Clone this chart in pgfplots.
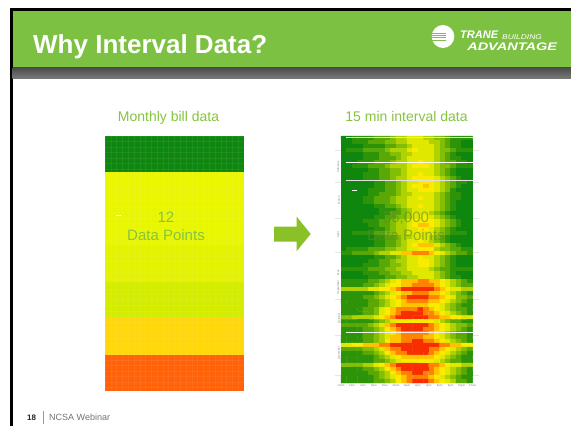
\documentclass[border=0pt]{standalone}
\usepackage{pgfplots}
\pgfplotsset{compat=1.18}
\usepackage{fontspec}
\setmainfont{Liberation Sans}
\definecolor{hdr}{HTML}{7DC142}
\definecolor{lab}{HTML}{86C440}
\definecolor{arr}{HTML}{8AC127}
\newcommand{\fs}[1]{\fontsize{#1}{#1}\selectfont}
\begin{document}
\begin{tikzpicture}[x=1pt,y=1pt]
\useasboundingbox (0,0) rectangle (571,426);
\fill[white] (0,0) rectangle (571,426);
% frame and header
\fill[black] (10,0) rectangle (571,418);
\fill[white] (12.7,0) rectangle (571,415.3);
\fill[hdr] (12.7,358) rectangle (571,415.3);
\shade[top color=black!70,bottom color=black!52,draw=none] (12.7,347.3) rectangle (571,358);
\node[anchor=base west,inner sep=0,text=white,font=\fs{26}\bfseries] at (33,372.7) {Why Interval Data?};
% logo
\fill[white] (443,389.5) ellipse (11.3 and 11.5);
\foreach \yy in {386,388.2,390.4,392.6}{\draw[hdr,line width=.6pt] (431,\yy) -- (446,\yy);}
\node[anchor=base west,inner sep=0,text=white,font=\fs{11}\bfseries\itshape] at (460,387) {TRANE};
\node[anchor=base west,inner sep=0,text=white,font=\fs{7}\itshape,xscale=1.2] at (502,386) {BUILDING};
\node[anchor=base west,inner sep=0,text=white,font=\fs{11}\bfseries\itshape,xscale=1.32] at (467,375.3) {ADVANTAGE};
% titles
\node[anchor=base,inner sep=0,text=lab,font=\fs{14}] at (168.5,304.3) {Monthly bill data};
\node[anchor=base,inner sep=0,text=lab,font=\fs{14}] at (406.5,304.3) {15 min interval data};
% left chart
\begin{axis}[at={(105pt,35pt)},anchor=south west,scale only axis,width=139pt,height=255pt,
  xmin=0,xmax=24,ymin=0,ymax=7,y dir=reverse,axis on top,
  axis line style={draw=none},major tick length=0pt,
  xtick={0,1,...,24},ytick={0,0.15,...,7},xticklabels={},yticklabels={},
  grid=major,grid style={white,opacity=.06,line width=.5pt}]
\addplot[fill={rgb,255:red,15;green,134;blue,15},draw=none] coordinates {(0,0)(24,0)(24,1)(0,1)} -- cycle;
\addplot[fill={rgb,255:red,234;green,245;blue,0},draw=none] coordinates {(0,1)(24,1)(24,2)(0,2)} -- cycle;
\addplot[fill={rgb,255:red,232;green,246;blue,0},draw=none] coordinates {(0,2)(24,2)(24,3)(0,3)} -- cycle;
\addplot[fill={rgb,255:red,226;green,242;blue,0},draw=none] coordinates {(0,3)(24,3)(24,4)(0,4)} -- cycle;
\addplot[fill={rgb,255:red,211;green,236;blue,0},draw=none] coordinates {(0,4)(24,4)(24,5)(0,5)} -- cycle;
\addplot[fill={rgb,255:red,255;green,215;blue,10},draw=none] coordinates {(0,5)(24,5)(24,6)(0,6)} -- cycle;
\addplot[fill={rgb,255:red,255;green,98;blue,8},draw=none] coordinates {(0,6)(24,6)(24,7)(0,7)} -- cycle;
\addplot[white,line width=1pt] coordinates {(1.9,2.17)(2.76,2.17)};
\end{axis}
% right chart
\begin{axis}[at={(341pt,43pt)},anchor=south west,scale only axis,width=131.6pt,height=247pt,
  xmin=-0.5,xmax=23.5,ymin=-0.5,ymax=61.5,y dir=reverse,clip=false,
  axis line style={draw=none},
  colormap={hm}{rgb255=(15,135,15) rgb255=(45,148,10) rgb255=(90,168,5) rgb255=(130,190,5) rgb255=(175,210,0) rgb255=(225,232,0) rgb255=(250,235,0) rgb255=(255,195,0) rgb255=(255,130,0) rgb255=(248,45,0)},
  point meta min=0,point meta max=9,
  xtick={-0.5,1.5,...,23.5},
  xticklabels={12am,2am,4am,6am,8am,10am,12pm,2pm,4pm,6pm,8pm,10pm,12am},
  x tick label style={font=\fs{2.8},text=black!50,inner sep=1pt},
  major tick length=0pt,
  ytick={7.3,15.6,24.3,33.8,37.5,45.3,54},
  yticklabels={February,March,April,May,September,October,December},
  y tick label style={font=\fs{2.8},text=black!50,rotate=90,anchor=south,inner sep=1pt},
  extra y ticks={3,11,20,28.75,40.5,49.5,59.5},extra y tick labels={},
  extra y tick style={major tick length=6pt,tick align=outside,tick style={black!10}}]
\addplot[matrix plot*,point meta=explicit,mesh/cols=24] table[row sep=crcr,header=false,x expr={mod(\coordindex,24)},y expr={floor((\coordindex+0.5)/24)},meta index=0] {
0\\0\\1\\1\\1\\1\\2\\2\\2\\3\\4\\4\\5\\5\\5\\4\\4\\3\\3\\2\\1\\1\\1\\1\\
0\\0\\1\\1\\1\\2\\2\\2\\3\\3\\4\\4\\5\\5\\5\\5\\4\\4\\3\\2\\1\\1\\0\\0\\
0\\0\\0\\0\\1\\1\\1\\1\\2\\2\\3\\3\\4\\5\\5\\5\\5\\4\\3\\2\\1\\1\\0\\0\\
0\\1\\1\\1\\2\\2\\2\\2\\3\\4\\4\\4\\5\\6\\5\\5\\5\\4\\3\\3\\2\\1\\1\\1\\
0\\0\\0\\0\\1\\1\\1\\2\\2\\3\\3\\4\\4\\5\\5\\5\\5\\4\\3\\2\\1\\0\\0\\0\\
0\\0\\0\\0\\1\\1\\1\\2\\2\\2\\3\\4\\5\\5\\5\\5\\5\\4\\3\\2\\1\\1\\0\\0\\
0\\0\\0\\1\\1\\1\\2\\2\\2\\3\\4\\4\\5\\5\\6\\5\\5\\4\\3\\2\\2\\1\\1\\0\\
0\\0\\1\\1\\1\\2\\2\\2\\3\\4\\4\\4\\5\\6\\6\\6\\5\\4\\3\\3\\2\\1\\1\\1\\
0\\0\\0\\0\\0\\1\\1\\2\\2\\3\\3\\4\\5\\5\\5\\5\\5\\4\\3\\2\\1\\0\\0\\0\\
0\\0\\0\\0\\1\\1\\1\\2\\2\\3\\3\\4\\5\\5\\6\\5\\5\\4\\3\\2\\1\\0\\0\\0\\
0\\0\\0\\0\\1\\1\\1\\2\\2\\3\\4\\4\\5\\6\\6\\6\\6\\5\\4\\3\\2\\1\\0\\0\\
0\\0\\0\\0\\0\\0\\1\\1\\2\\2\\3\\4\\5\\5\\6\\6\\6\\5\\4\\3\\2\\1\\1\\0\\
0\\0\\0\\0\\0\\0\\1\\1\\2\\2\\3\\4\\5\\6\\6\\7\\6\\5\\4\\3\\2\\1\\0\\0\\
0\\0\\0\\0\\0\\1\\1\\1\\2\\2\\3\\4\\5\\5\\6\\6\\6\\5\\4\\3\\1\\0\\0\\0\\
0\\0\\0\\0\\0\\1\\1\\2\\2\\2\\3\\4\\4\\5\\5\\5\\5\\4\\3\\2\\1\\1\\0\\0\\
0\\0\\0\\0\\1\\1\\2\\2\\2\\3\\4\\4\\5\\5\\6\\5\\5\\4\\3\\2\\1\\1\\0\\0\\
0\\0\\0\\0\\1\\1\\2\\2\\2\\3\\4\\4\\5\\5\\5\\5\\5\\4\\3\\2\\1\\0\\0\\0\\
0\\0\\0\\0\\0\\0\\1\\1\\2\\2\\3\\4\\5\\5\\6\\5\\5\\4\\3\\2\\1\\0\\0\\0\\
0\\0\\0\\0\\0\\0\\0\\1\\1\\1\\2\\3\\4\\5\\5\\5\\5\\4\\3\\2\\1\\0\\0\\0\\
0\\0\\0\\0\\0\\0\\0\\1\\1\\2\\2\\3\\4\\5\\5\\5\\4\\3\\2\\1\\0\\0\\0\\0\\
0\\0\\0\\0\\0\\0\\1\\1\\2\\2\\3\\3\\4\\5\\5\\6\\5\\4\\3\\2\\1\\0\\0\\0\\
0\\0\\0\\0\\1\\1\\1\\2\\2\\3\\4\\4\\5\\6\\6\\6\\6\\5\\4\\3\\2\\1\\0\\0\\
0\\0\\0\\0\\0\\1\\1\\2\\2\\3\\4\\4\\5\\6\\7\\7\\6\\5\\4\\3\\2\\1\\0\\0\\
0\\0\\0\\0\\0\\0\\1\\1\\2\\3\\4\\4\\5\\5\\6\\6\\5\\4\\3\\2\\1\\0\\0\\0\\
0\\0\\1\\1\\1\\1\\2\\2\\3\\3\\4\\4\\5\\5\\5\\5\\5\\4\\3\\2\\1\\1\\1\\0\\
0\\0\\0\\0\\0\\0\\1\\1\\2\\2\\3\\4\\4\\5\\5\\5\\4\\3\\2\\1\\0\\0\\0\\0\\
0\\0\\0\\0\\0\\0\\1\\1\\2\\2\\3\\4\\5\\5\\6\\5\\4\\3\\2\\1\\0\\0\\0\\0\\
0\\0\\0\\0\\0\\0\\1\\1\\2\\2\\3\\4\\5\\6\\7\\7\\7\\5\\4\\3\\2\\1\\0\\0\\
0\\1\\1\\1\\1\\2\\2\\2\\3\\3\\4\\4\\5\\5\\6\\6\\6\\4\\3\\3\\2\\2\\1\\1\\
1\\1\\2\\2\\2\\2\\3\\4\\4\\5\\5\\7\\7\\8\\8\\8\\7\\6\\5\\4\\3\\2\\2\\1\\
0\\0\\0\\0\\0\\0\\1\\1\\2\\2\\3\\4\\5\\5\\6\\5\\5\\4\\3\\2\\1\\0\\0\\0\\
0\\0\\0\\0\\0\\1\\1\\2\\2\\3\\4\\4\\5\\5\\6\\6\\5\\4\\3\\2\\1\\0\\0\\0\\
0\\0\\0\\0\\1\\1\\1\\2\\2\\3\\3\\4\\5\\5\\6\\6\\5\\4\\3\\2\\1\\0\\0\\0\\
1\\1\\1\\1\\1\\2\\2\\2\\3\\3\\4\\4\\5\\5\\5\\5\\4\\3\\2\\2\\1\\1\\1\\1\\
0\\0\\0\\0\\1\\1\\1\\2\\2\\3\\3\\4\\4\\5\\5\\5\\5\\4\\3\\2\\1\\0\\0\\0\\
0\\0\\0\\0\\0\\1\\1\\1\\2\\2\\3\\3\\4\\4\\5\\5\\5\\4\\3\\2\\1\\1\\0\\0\\
1\\1\\1\\1\\1\\2\\2\\3\\4\\5\\6\\7\\7\\7\\8\\8\\7\\7\\6\\5\\4\\3\\2\\1\\
1\\1\\1\\1\\2\\2\\3\\4\\5\\6\\6\\7\\7\\8\\8\\8\\8\\7\\6\\5\\4\\3\\2\\2\\
4\\4\\4\\4\\4\\5\\5\\6\\6\\7\\8\\9\\9\\9\\9\\9\\9\\8\\7\\6\\5\\5\\4\\4\\
1\\1\\1\\1\\1\\1\\2\\3\\4\\5\\6\\7\\7\\8\\8\\8\\7\\7\\6\\5\\4\\3\\2\\1\\
1\\1\\1\\1\\2\\2\\3\\4\\5\\6\\7\\8\\9\\9\\9\\9\\8\\8\\7\\6\\5\\3\\3\\2\\
1\\1\\1\\1\\1\\2\\2\\3\\4\\5\\6\\7\\8\\8\\8\\8\\7\\7\\6\\5\\4\\3\\2\\1\\
1\\1\\1\\1\\1\\2\\2\\3\\4\\5\\6\\7\\7\\7\\7\\7\\6\\6\\5\\4\\3\\2\\1\\1\\
1\\1\\1\\1\\2\\2\\3\\5\\6\\7\\8\\8\\8\\8\\9\\8\\7\\6\\5\\4\\3\\2\\2\\1\\
1\\1\\1\\1\\2\\2\\3\\5\\6\\7\\8\\9\\9\\9\\9\\8\\8\\7\\6\\5\\4\\3\\2\\1\\
3\\3\\4\\4\\4\\4\\5\\6\\7\\8\\9\\9\\9\\9\\9\\9\\8\\8\\7\\7\\6\\6\\5\\5\\
1\\1\\1\\1\\1\\1\\2\\3\\4\\5\\6\\6\\6\\6\\6\\6\\6\\5\\4\\3\\2\\2\\1\\1\\
2\\2\\2\\2\\2\\3\\4\\5\\7\\8\\9\\9\\9\\9\\9\\9\\8\\7\\6\\5\\4\\3\\3\\2\\
1\\1\\1\\1\\2\\2\\3\\4\\6\\7\\8\\9\\9\\9\\9\\8\\8\\7\\6\\5\\4\\3\\2\\1\\
1\\1\\1\\1\\2\\2\\3\\4\\5\\6\\7\\8\\8\\8\\8\\8\\7\\6\\5\\4\\3\\2\\2\\1\\
1\\1\\1\\1\\2\\2\\3\\4\\5\\7\\7\\8\\8\\8\\8\\7\\7\\6\\5\\4\\3\\2\\2\\1\\
1\\1\\1\\1\\2\\2\\3\\4\\6\\7\\7\\8\\8\\9\\9\\8\\8\\7\\6\\5\\4\\3\\2\\1\\
5\\5\\6\\6\\7\\7\\7\\8\\8\\9\\9\\9\\9\\9\\9\\9\\9\\9\\8\\8\\7\\7\\6\\6\\
2\\2\\2\\2\\3\\3\\4\\5\\7\\8\\8\\9\\9\\9\\9\\9\\8\\8\\7\\6\\5\\4\\3\\2\\
1\\1\\1\\1\\2\\2\\3\\4\\6\\7\\8\\8\\9\\9\\9\\9\\8\\7\\6\\5\\4\\3\\2\\1\\
1\\1\\1\\1\\1\\1\\2\\3\\4\\5\\6\\7\\7\\7\\7\\7\\7\\6\\5\\4\\3\\2\\1\\1\\
1\\1\\1\\1\\1\\1\\2\\2\\3\\4\\5\\6\\6\\6\\6\\6\\6\\5\\4\\3\\2\\2\\1\\1\\
3\\3\\3\\3\\4\\4\\5\\6\\7\\8\\9\\9\\9\\9\\9\\9\\8\\8\\7\\6\\5\\5\\4\\4\\
1\\1\\1\\1\\2\\2\\3\\4\\6\\7\\8\\9\\9\\9\\9\\9\\8\\7\\6\\5\\4\\3\\2\\1\\
1\\1\\1\\1\\1\\2\\2\\3\\4\\6\\7\\8\\8\\9\\9\\8\\8\\7\\6\\5\\4\\3\\2\\1\\
1\\1\\1\\1\\1\\1\\2\\3\\4\\5\\6\\7\\8\\8\\8\\8\\7\\6\\5\\4\\3\\2\\1\\1\\
1\\1\\1\\1\\1\\1\\2\\2\\3\\4\\6\\7\\8\\9\\9\\9\\8\\7\\6\\5\\4\\2\\2\\1\\
};
\addplot[black!12,line width=1.5pt] coordinates {(0.41,-0.07)(23.5,-0.07)};
\addplot[white,line width=1pt] coordinates {(0.41,6.1)(23.5,6.1)};
\addplot[black!12,line width=1.4pt] coordinates {(0.41,10.72)(23.5,10.72)};
\addplot[white,line width=1pt] coordinates {(1.5,13.3)(2.4,13.3)};
\addplot[black!6,line width=1.3pt] coordinates {(0.41,48.87)(23.5,48.87)};
\end{axis}
% arrow
\fill[arr] (274,199.3) -- (296.7,199.3) -- (296.7,209.3) -- (310.7,192) -- (296.7,175) -- (296.7,184.3) -- (274,184.3) -- cycle;
% overlaid text
\node[anchor=base,inner sep=0,text=lab,font=\fs{15}] at (166,203) {12};
\node[anchor=base,inner sep=0,text=lab,font=\fs{15}] at (166,185) {Data Points};
\node[anchor=base,inner sep=0,text=lab!70!black,text opacity=.6,font=\fs{15}] at (406,203) {35,000};
\node[anchor=base,inner sep=0,text=lab!70!black,text opacity=.6,font=\fs{15}] at (406,185) {Data Points};
% footer
\node[anchor=base west,inner sep=0,text=black!85,font=\fs{8}\bfseries] at (27,5) {18};
\fill[black!40] (42.7,2) rectangle (43.7,15);
\node[anchor=base west,inner sep=0,text=black!55,font=\fs{9}] at (49,5) {NCSA Webinar};
\end{tikzpicture}
\end{document}
